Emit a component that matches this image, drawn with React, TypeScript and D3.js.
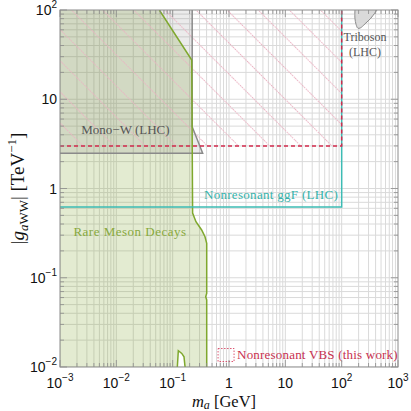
import React, { useRef, useEffect } from 'react';
import * as d3 from 'd3';

const WIDTH = 411;
const HEIGHT = 411;

// axis ticks
const massTicks = [1e-3, 1e-2, 1e-1, 1, 10, 1e2, 1e3];
const massTickLabels = [['10', '−3'], ['10', '−2'], ['10', '−1'], ['1', ''], ['10', ''], ['10', '2'], ['10', '3']];
const couplingTicks = [1e-2, 1e-1, 1, 10, 1e2];
const couplingTickLabels = [['10', '−2'], ['10', '−1'], ['1', ''], ['10', ''], ['10', '2']];

// boundaries as [m_a (GeV), |g_aWW| (TeV^-1)]
const rareMesonEdge = [
  [0.058, 100], [0.218, 27.5], [0.226, 0.53], [0.259, 0.425], [0.327, 0.343],
  [0.375, 0.288], [0.402, 0.243], [0.402, 0.067], [0.386, 0.0614], [0.402, 0.0564], [0.402, 0.01],
];
const rareMesonNotch = [[0.166, 0.01], [0.159, 0.013], [0.145, 0.0142], [0.126, 0.0152], [0.121, 0.01]];

const monoWEdge = [[0.222, 100], [0.222, 4.93], [0.341, 2.48], [1e-3, 2.48]];

const tribosonEdge = [
  [172, 100], [172, 81], [180, 69], [194, 62.5], [215, 63], [260, 70], [330, 81], [385, 92], [424, 100],
];

const vbsLimit = { mass: 100, coupling: 3.0 };
const ggfLimit = { mass: 100, coupling: 0.62 };

const GREEN = '#7fa82e';
const GRAY = '#8a8a8a';
const TEAL = '#3cbcb4';
const RED = '#d22a4c';

const ChartSvg = () => {
  const svgRef = useRef(null);

  useEffect(() => {
    const svg = d3.select(svgRef.current);
    svg.selectAll('*').remove();

    const margin = { top: 10, right: 13, bottom: 44, left: 60 };
    const w = WIDTH - margin.left - margin.right;
    const h = HEIGHT - margin.top - margin.bottom;

    const x = d3.scaleLog().domain([1e-3, 1e3]).range([margin.left, margin.left + w]);
    const y = d3.scaleLog().domain([1e-2, 1e2]).range([margin.top + h, margin.top]);

    const defs = svg.append('defs');
    defs.append('clipPath').attr('id', 'plot-clip')
      .append('rect').attr('x', margin.left).attr('y', margin.top).attr('width', w).attr('height', h);

    const hatch = defs.append('pattern')
      .attr('id', 'vbs-hatch')
      .attr('patternUnits', 'userSpaceOnUse')
      .attr('width', 22).attr('height', 22)
      .attr('patternTransform', 'rotate(45)');
    hatch.append('line')
      .attr('x1', 0).attr('y1', 0.5).attr('x2', 22).attr('y2', 0.5)
      .attr('stroke', '#eab2c2').attr('stroke-width', 1)
      .attr('stroke-dasharray', '1.5,1');

    const plot = svg.append('g').attr('clip-path', 'url(#plot-clip)');

    // grid (major + minor decades)
    const xGrid = [];
    for (let e = -3; e < 3; e++) for (let k = 1; k < 10; k++) xGrid.push(k * Math.pow(10, e));
    const yGrid = [];
    for (let e = -2; e < 2; e++) for (let k = 1; k < 10; k++) yGrid.push(k * Math.pow(10, e));

    plot.append('g').selectAll('line').data(xGrid).enter().append('line')
      .attr('x1', d => x(d)).attr('x2', d => x(d))
      .attr('y1', margin.top).attr('y2', margin.top + h)
      .attr('stroke', '#dadada').attr('stroke-width', 1);
    plot.append('g').selectAll('line').data(yGrid).enter().append('line')
      .attr('y1', d => y(d)).attr('y2', d => y(d))
      .attr('x1', margin.left).attr('x2', margin.left + w)
      .attr('stroke', '#dadada').attr('stroke-width', 1);

    const line = d3.line().x(d => x(d[0])).y(d => y(d[1]));

    // rare meson decays
    const rareFill = [[1e-3, 100], ...rareMesonEdge, ...rareMesonNotch, [1e-3, 1e-2]];
    plot.append('path').attr('d', line(rareFill) + 'Z')
      .attr('fill', 'rgba(128,165,45,0.22)');

    // mono-W
    const monoFill = [[1e-3, 100], ...monoWEdge];
    plot.append('path').attr('d', line(monoFill) + 'Z')
      .attr('fill', 'rgba(100,100,100,0.13)');

    // triboson
    const triLine = d3.line().x(d => x(d[0])).y(d => y(d[1])).curve(d3.curveCatmullRom);
    plot.append('path').attr('d', triLine(tribosonEdge))
      .attr('fill', '#dadada').attr('stroke', GRAY).attr('stroke-width', 1);

    // VBS hatch
    plot.append('rect')
      .attr('x', x(1e-3)).attr('y', y(100))
      .attr('width', x(vbsLimit.mass) - x(1e-3))
      .attr('height', y(vbsLimit.coupling) - y(100))
      .attr('fill', 'url(#vbs-hatch)');

    plot.append('path').attr('d', line(monoWEdge))
      .attr('fill', 'none').attr('stroke', GRAY).attr('stroke-width', 1.5);
    plot.append('path').attr('d', line(rareMesonEdge))
      .attr('fill', 'none').attr('stroke', GREEN).attr('stroke-width', 1.5);
    plot.append('path').attr('d', line(rareMesonNotch))
      .attr('fill', 'none').attr('stroke', GREEN).attr('stroke-width', 1.5);

    // ggF
    plot.append('path')
      .attr('d', line([[1e-3, ggfLimit.coupling], [ggfLimit.mass, ggfLimit.coupling], [ggfLimit.mass, 100]]))
      .attr('fill', 'none').attr('stroke', TEAL).attr('stroke-width', 1.5);

    // VBS (this work)
    plot.append('path')
      .attr('d', line([[1e-3, vbsLimit.coupling], [vbsLimit.mass, vbsLimit.coupling], [vbsLimit.mass, 100]]))
      .attr('fill', 'none').attr('stroke', RED).attr('stroke-width', 1.5)
      .attr('stroke-dasharray', '4,3');

    // labels inside the plot
    const serif = '"Liberation Serif", "DejaVu Serif", serif';
    const addLabel = (text, px, py, color, size = 13, anchor = 'middle') =>
      svg.append('text').attr('x', px).attr('y', py)
        .attr('text-anchor', anchor).attr('font-family', serif)
        .attr('font-size', size).attr('fill', color).text(text);

    addLabel('Mono−W (LHC)', x(0.0145), y(4.1), '#555');
    addLabel('Triboson', x(260), y(45), '#555', 12);
    addLabel('(LHC)', x(260), y(30.5), '#555', 12);
    addLabel('Nonresonant ggF (LHC)', x(5.57), y(0.77), '#35b3ab').attr('letter-spacing', 0.3);
    addLabel('Rare Meson Decays', x(0.0175), y(0.29), '#88a93d').attr('letter-spacing', 0.5);

    // legend
    const legendX = x(1.39);
    const legendY = y(0.0138);
    svg.append('rect')
      .attr('x', legendX - 19).attr('y', legendY - 6).attr('width', 16).attr('height', 13)
      .attr('fill', 'none').attr('stroke', RED).attr('stroke-width', 0.8)
      .attr('stroke-dasharray', '1.5,1.5');
    addLabel('Nonresonant VBS (this work)', legendX, legendY + 4, '#c8314f', 13, 'start')
      .attr('letter-spacing', 0.2);

    // frame and ticks
    const axisColor = '#8c8c8c';
    const ticks = svg.append('g').attr('stroke', axisColor).attr('stroke-width', 0.8);
    xGrid.concat([1e3]).forEach(v => {
      const major = massTicks.includes(v);
      const len = major ? 7 : 4;
      ticks.append('line').attr('x1', x(v)).attr('x2', x(v))
        .attr('y1', margin.top + h).attr('y2', margin.top + h - len);
      ticks.append('line').attr('x1', x(v)).attr('x2', x(v))
        .attr('y1', margin.top).attr('y2', margin.top + len);
    });
    yGrid.concat([1e2]).forEach(v => {
      const major = couplingTicks.includes(v);
      const len = major ? 7 : 4;
      ticks.append('line').attr('y1', y(v)).attr('y2', y(v))
        .attr('x1', margin.left).attr('x2', margin.left + len);
      ticks.append('line').attr('y1', y(v)).attr('y2', y(v))
        .attr('x1', margin.left + w).attr('x2', margin.left + w - len);
    });
    svg.append('rect')
      .attr('x', margin.left).attr('y', margin.top).attr('width', w).attr('height', h)
      .attr('fill', 'none').attr('stroke', axisColor).attr('stroke-width', 1);

    // tick labels
    const sans = '"Liberation Sans", Arial, sans-serif';
    massTicks.forEach((v, i) => {
      const [base, exp] = massTickLabels[i];
      const t = svg.append('text').attr('x', x(v)).attr('y', margin.top + h + 21)
        .attr('text-anchor', 'middle').attr('font-family', sans).attr('font-size', 14).attr('fill', '#111');
      t.append('tspan').text(base);
      if (exp) t.append('tspan').attr('dy', -7).attr('font-size', 10).text(exp);
    });
    couplingTicks.forEach((v, i) => {
      const [base, exp] = couplingTickLabels[i];
      const t = svg.append('text').attr('x', margin.left - 3).attr('y', y(v) + 5)
        .attr('text-anchor', 'end').attr('font-family', sans).attr('font-size', 14).attr('fill', '#111');
      t.append('tspan').text(base);
      if (exp) t.append('tspan').attr('dy', -7).attr('font-size', 10).text(exp);
    });

    // axis titles
    const xt = svg.append('text').attr('x', margin.left + w / 2 - 5).attr('y', 406.5)
      .attr('text-anchor', 'middle').attr('font-family', serif).attr('font-size', 16.5).attr('fill', '#111');
    xt.append('tspan').attr('font-style', 'italic').text('m');
    xt.append('tspan').attr('font-style', 'italic').attr('font-size', 12).attr('dy', 2).text('a');
    xt.append('tspan').attr('dy', -2).text(' [GeV]');

    const yt = svg.append('text')
      .attr('transform', `translate(24,${margin.top + h / 2}) rotate(-90)`)
      .attr('text-anchor', 'middle').attr('font-family', serif).attr('font-size', 19).attr('fill', '#111');
    yt.append('tspan').text('|');
    yt.append('tspan').attr('font-style', 'italic').text('g');
    yt.append('tspan').attr('font-size', 13).attr('dy', 4).attr('font-style', 'italic').text('a');
    yt.append('tspan').attr('font-size', 13).text('WW');
    yt.append('tspan').attr('dy', -4).text('| [TeV');
    yt.append('tspan').attr('font-size', 13).attr('dy', -8).text('−1');
    yt.append('tspan').attr('dy', 8).text(']');
  }, []);

  return <svg ref={svgRef} width={WIDTH} height={HEIGHT} style={{ display: 'block' }} />;
};

export default function App() {
  return (
    <div style={{ position: 'fixed', left: 0, top: 0, width: WIDTH, height: HEIGHT, background: '#fff' }}>
      <ChartSvg />
    </div>
  );
}
